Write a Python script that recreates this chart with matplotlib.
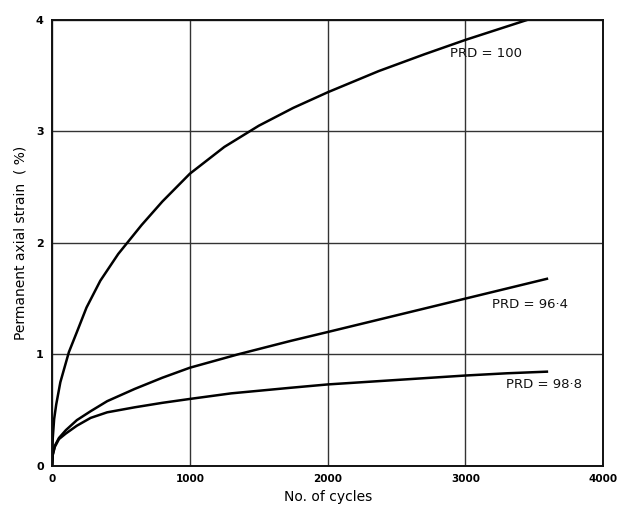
import matplotlib
matplotlib.use("Agg")
import matplotlib.pyplot as plt

# values (cycles, permanent strain %)
cycles_100 = [0, 5, 15, 30, 60, 122, 180, 250, 350, 480, 650, 800, 1000,
              1250, 1500, 1750, 2000, 2370, 2700, 3000, 3200, 3450]
strain_100 = [0, 0.25, 0.42, 0.55, 0.75, 1.02, 1.20, 1.42, 1.66, 1.90, 2.16, 2.37, 2.62,
              2.86, 3.05, 3.21, 3.35, 3.54, 3.69, 3.82, 3.90, 4.00]

cycles_964 = [0, 5, 20, 50, 100, 180, 280, 400, 600, 800, 1000, 1350, 1730,
              2000, 2500, 3000, 3300, 3600]
strain_964 = [0, 0.10, 0.18, 0.25, 0.32, 0.41, 0.49, 0.58, 0.69, 0.79, 0.88, 1.00, 1.12,
              1.20, 1.35, 1.50, 1.59, 1.68]

cycles_988 = [0, 5, 20, 50, 100, 180, 280, 400, 600, 800, 1000, 1300, 1730,
              2000, 2500, 3000, 3300, 3600]
strain_988 = [0, 0.10, 0.17, 0.24, 0.29, 0.36, 0.43, 0.48, 0.525, 0.565, 0.60, 0.65, 0.70,
              0.73, 0.77, 0.81, 0.83, 0.845]

x_ticks = [0, 1000, 2000, 3000, 4000]
y_ticks = [0, 1, 2, 3, 4]

labels = ["PRD = 100", "PRD = 96\u00b74", "PRD = 98\u00b78"]
label_pos = [(2885, 3.70), (3195, 1.45), (3295, 0.73)]

fig = plt.figure(figsize=(6.2, 5.08), dpi=100)
ax = fig.add_axes([0.084, 0.083, 0.889, 0.878])

for xs, ys in [(cycles_100, strain_100), (cycles_964, strain_964), (cycles_988, strain_988)]:
    ax.plot(xs, ys, color="black", lw=1.8, solid_capstyle="butt", solid_joinstyle="round")

for txt, (x, y) in zip(labels, label_pos):
    ax.text(x, y, txt, fontsize=9.5, ha="left", va="center", color="#111111")

ax.set_xlim(0, 4000)
ax.set_ylim(0, 4)
ax.set_xticks(x_ticks)
ax.set_yticks(y_ticks)
ax.set_xticklabels([str(v) for v in x_ticks], fontsize=7.5, fontweight="bold")
ax.set_yticklabels([str(v) for v in y_ticks], fontsize=8, fontweight="bold")
ax.tick_params(length=0, pad=6)
ax.grid(True, color="#333333", lw=1.0)
ax.set_axisbelow(True)
for sp in ax.spines.values():
    sp.set_linewidth(1.4)
    sp.set_color("#111111")

ax.set_xlabel("No. of cycles", fontsize=10, labelpad=4)
ax.set_ylabel("Permanent axial strain  ( %)", fontsize=10, labelpad=6)

fig.savefig("out.png", dpi=100, facecolor="white")
